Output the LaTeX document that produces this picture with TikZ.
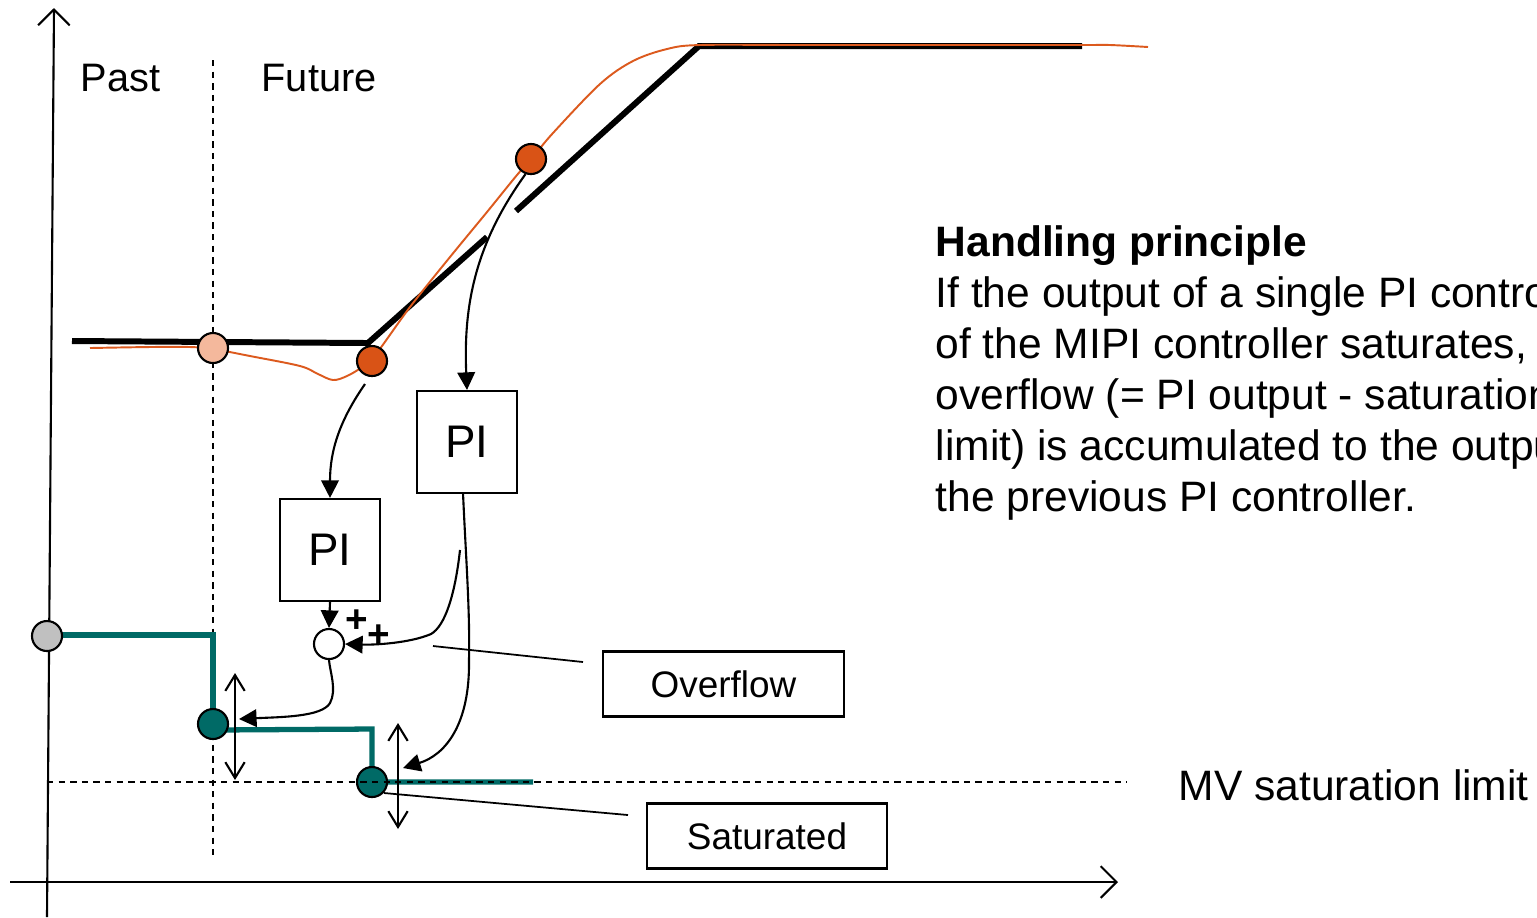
\documentclass[tikz,border=0pt]{standalone}
\usepackage{fontspec}
\setmainfont{Liberation Sans}
\usetikzlibrary{arrows.meta}

\definecolor{mvteal}{HTML}{006A66}
\definecolor{predorange}{HTML}{DC5A1E}
\definecolor{dotorange}{HTML}{D95316}
\definecolor{dotpeach}{HTML}{F4B89C}
\definecolor{dotgrey}{HTML}{C0C0C0}

\tikzset{
  thinline/.style={line width=0.5pt},
  axisline/.style={line width=0.6pt, -{Straight Barb[length=4.5pt,width=9pt]}},
  refline/.style={line width=0.6pt, dash pattern=on 1.8pt off 1.5pt},
  trajline/.style={line width=1.7pt},
  predline/.style={line width=0.55pt, predorange},
  mvline/.style={line width=1.5pt, mvteal},
  sample/.style={circle, draw, line width=0.6pt, minimum size=0.30cm, inner sep=0pt},
  pibox/.style={draw, line width=0.6pt, minimum width=1.0cm, minimum height=1.02cm, inner sep=0pt,
                font=\fontsize{13}{15}\selectfont},
  labelbox/.style={draw, line width=0.6pt, minimum width=2.40cm, minimum height=0.65cm, inner sep=0pt,
                   font=\fontsize{10.5}{12.5}\selectfont},
  flow/.style={line width=0.6pt, -{Triangle[length=5pt,width=5pt]}},
  moverange/.style={line width=0.6pt, {Straight Barb[length=4.5pt,width=5.5pt]}-{Straight Barb[length=4.5pt,width=5.5pt]}},
  sign/.style={font=\fontsize{11}{12}\bfseries\selectfont, inner sep=0pt},
  body/.style={font=\fontsize{12.1}{14.5}\selectfont, inner sep=0pt, anchor=base west},
}

\begin{document}
\begin{tikzpicture}[x=0.01cm, y=-0.01cm]
\useasboundingbox (0,0) rectangle (1537,917);

% axes
\coordinate (yb) at (47,917);
\coordinate (yt) at (54,8);
\coordinate (xl) at (10,882);
\coordinate (xr) at (1118,882);
\draw[axisline] (yb) -- (yt);
\draw[axisline] (xl) -- (xr);

% past / future divider
\coordinate (nowtop) at (213,60);
\coordinate (nowbot) at (213,855);
\draw[refline] (nowtop) -- (nowbot);

\node[body, font=\fontsize{11.3}{13}\selectfont] (past) at (80,91) {Past};
\node[body, font=\fontsize{11.3}{13}\selectfont] (future) at (261,91) {Future};

% reference trajectory
\coordinate (r0) at (72,341);
\coordinate (r1) at (368,343);
\coordinate (r2) at (487,237);
\coordinate (r3) at (516,211);
\coordinate (r4) at (699,46);
\coordinate (r5) at (1082,46);
\draw[trajline] (r0) -- (r1) -- (r2);
\draw[trajline] (r3) -- (r4) -- (r5);

% predicted output
\draw[predline] plot[smooth, tension=0.55] coordinates {
  (90,348) (150,347) (190,347) (213,349) (250,356) (300,366) (318,374) (333,380)
  (347,376) (362,367) (376,354) (410,307) (450,257) (487,212) (517,175) (533,157)
  (553,133) (600,84) (633,61) (667,49) (700,45) (800,45) (950,45) (1082,45) (1110,45) (1148,47)};

% manipulated variable moves
\draw[mvline] (47,635) -- (213,635) -- (213,724);
\draw[mvline] (213,730) -- (372,729) -- (372,782) -- (533,782);

% samples
\node[sample, fill=dotpeach] (pk) at (213,348) {};
\node[sample, fill=dotorange] (o1) at (372,361) {};
\node[sample, fill=dotorange] (o2) at (531,159) {};
\node[sample, fill=dotgrey] (g0) at (47,636) {};
\node[sample, fill=mvteal] (t1) at (213,724) {};
\node[sample, fill=mvteal] (t2) at (372,782) {};

% saturation limit
\coordinate (satl) at (47,782);
\coordinate (satr) at (1127,782);
\draw[refline] (satl) -- (satr);
\node[body] (satlabel) at (1178,800) {MV saturation limit};

% controllers
\node[pibox] (pi2) at (467,442) {PI};
\node[pibox] (pi1) at (330,550) {PI};
\node[sample, fill=white] (sum) at (329,644) {};
\node[sign] (p1) at (357,621) {+};
\node[sign] (p2) at (379,636) {+};

% signal paths
\coordinate (o1out) at (365,384);
\draw[flow] (o1out) .. controls (340,420) and (330,450) .. (pi1.north);
\draw[flow] (o2.250) .. controls (478,240) and (463,300) .. (pi2.north);
\draw[flow] (pi1.south) -- (sum.north);

\coordinate (ovstart) at (460,550);
\coordinate (ovknee) at (431,634);
\draw[flow] (ovstart) .. controls (455,595) and (445,626) .. (ovknee)
  .. controls (410,643) and (375,645) .. (sum.east);

\coordinate (sumbend) at (330,703);
\coordinate (t1in) at (239,719);
\draw[flow] (sum.south) .. controls (330,672) and (337,690) .. (sumbend)
  .. controls (322,717) and (280,717) .. (t1in);

\coordinate (pi2low) at (469,660);
\coordinate (t2in) at (403,768);
\draw[flow] (463,493) .. controls (466,560) and (470,610) .. (pi2low)
  .. controls (470,725) and (445,755) .. (t2in);

% ranges of the moves
\coordinate (a1t) at (235,673);
\coordinate (a1b) at (235,780);
\coordinate (a2t) at (398,723);
\coordinate (a2b) at (398,829);
\draw[moverange] (a1t) -- (a1b);
\draw[moverange] (a2t) -- (a2b);

% annotations
\node[labelbox] (ovbox) at (723.5,684) {Overflow};
\node[labelbox] (satbox) at (767,836) {Saturated};
\coordinate (ovtip) at (433,646);
\coordinate (ovend) at (583,662);
\coordinate (sattip) at (384,793);
\coordinate (satend) at (628,815);
\draw[thinline] (ovtip) -- (ovend);
\draw[thinline] (sattip) -- (satend);

% handling principle (runs past the right edge of the page)
\node[body, font=\fontsize{12.1}{14.5}\bfseries\selectfont] (hp0) at (935,256) {Handling principle};
\node[body] (hp1) at (935,307) {If the output of a single PI controller};
\node[body] (hp2) at (935,358) {of the MIPI controller saturates, the};
\node[body] (hp3) at (935,409) {overflow (= PI output - saturation};
\node[body] (hp4) at (935,460) {limit) is accumulated to the output of};
\node[body] (hp5) at (935,511) {the previous PI controller.};
\end{tikzpicture}
\end{document}
